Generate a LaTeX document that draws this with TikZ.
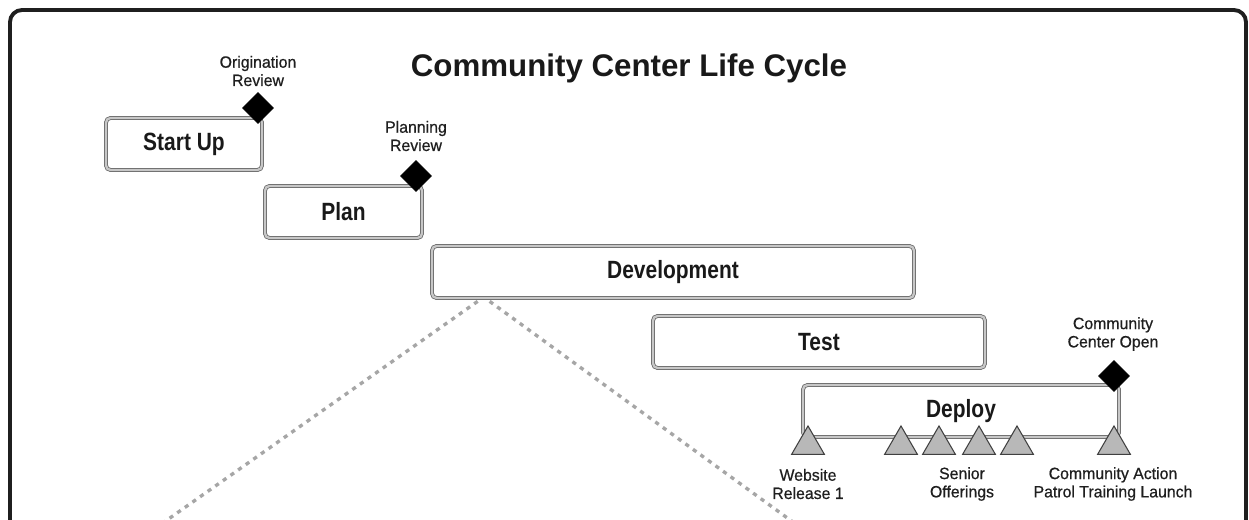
\documentclass[tikz,border=0pt]{standalone}
\usepackage{fontspec}
\setmainfont{Liberation Sans}
\newfontfamily\condfont{Liberation Sans}[FakeStretch=0.84]
\newfontfamily\labfont{Liberation Sans}[FakeStretch=0.97, FakeBold=0.6]
\newfontfamily\titlefont{Liberation Sans}[FakeStretch=1.0]
\usetikzlibrary{shapes.geometric,calc}
\begin{document}
\begin{tikzpicture}[x=0.02cm,y=-0.02cm,
  phase/.style={draw=black!60, double=black!22, double distance=1.3pt, line width=0.45pt,
    fill=white, rounded corners=0.09cm, minimum height=1.04cm, inner sep=0pt,
    font=\condfont\bfseries\fontsize{14.2}{16}\selectfont, text=black!90},
  gate/.style={diamond, fill=black, draw=black, inner sep=0pt, minimum width=0.62cm, minimum height=0.62cm},
  mile/.style={regular polygon, regular polygon sides=3, fill=black!28, draw=black!75, line width=0.6pt,
    inner sep=0pt, minimum size=0.76cm, anchor=south},
  lab/.style={align=center, font=\labfont\fontsize{9.3}{10.4}\selectfont, text=black!88, inner sep=0pt},
  zoomline/.style={draw=black!35, line width=1.9pt, dash pattern=on 2.4pt off 2.9pt}
]
\useasboundingbox (0,0) rectangle (1249,520);
\clip (0,0) rectangle (1249,520);
\fill[white] (0,0) rectangle (1249,520);
% frame
\draw[line width=2.2pt, black!88, rounded corners=0.24cm] (10,560) -- (10,10) -- (1246,10) -- (1246,560);
% title
\node[font=\titlefont\bfseries\fontsize{17.8}{20}\selectfont, text=black!90] (title) at (629,68) {Community Center Life Cycle};
% phases
\node[phase, minimum width=3.12cm] (start) at (184,144) {Start Up};
\node[phase, minimum width=3.14cm] (plan) at (343.5,212) {Plan};
\node[phase, minimum width=9.64cm] (dev) at (673,272) {Development};
\node[phase, minimum width=6.64cm] (test) at (819,342) {Test};
\node[phase, minimum width=6.32cm] (deploy) at (961,411) {Deploy};
% zoom lines
\coordinate (zl) at (160,525);
\coordinate (zr) at (797,525);
\draw[zoomline] ($(dev.south west)+(46,3)$) -- (zl);
\draw[zoomline] ($(dev.south west)+(58,3)$) -- (zr);
% gates
\node[gate] (g1) at (258,108) {};
\node[gate] (g2) at (416,176) {};
\node[gate] (g3) at (1114,376) {};
\node[lab] (g1l) at (258,71) {Origination\\Review};
\node[lab] (g2l) at (416,136) {Planning\\Review};
\node[lab] (g3l) at (1113,334) {Community\\Center Open};
% milestones
\node[mile] (m1) at (808,455) {};
\node[mile] (m2) at (901,455) {};
\node[mile] (m3) at (939,455) {};
\node[mile] (m4) at (979,455) {};
\node[mile] (m5) at (1017,455) {};
\node[mile] (m6) at (1114,455) {};
\node[lab] (m1l) at (808,484) {Website\\Release 1};
\node[lab] (m3l) at (962,484) {Senior\\Offerings};
\node[lab] (m6l) at (1113,484) {Community Action\\Patrol Training Launch};
\end{tikzpicture}
\end{document}
